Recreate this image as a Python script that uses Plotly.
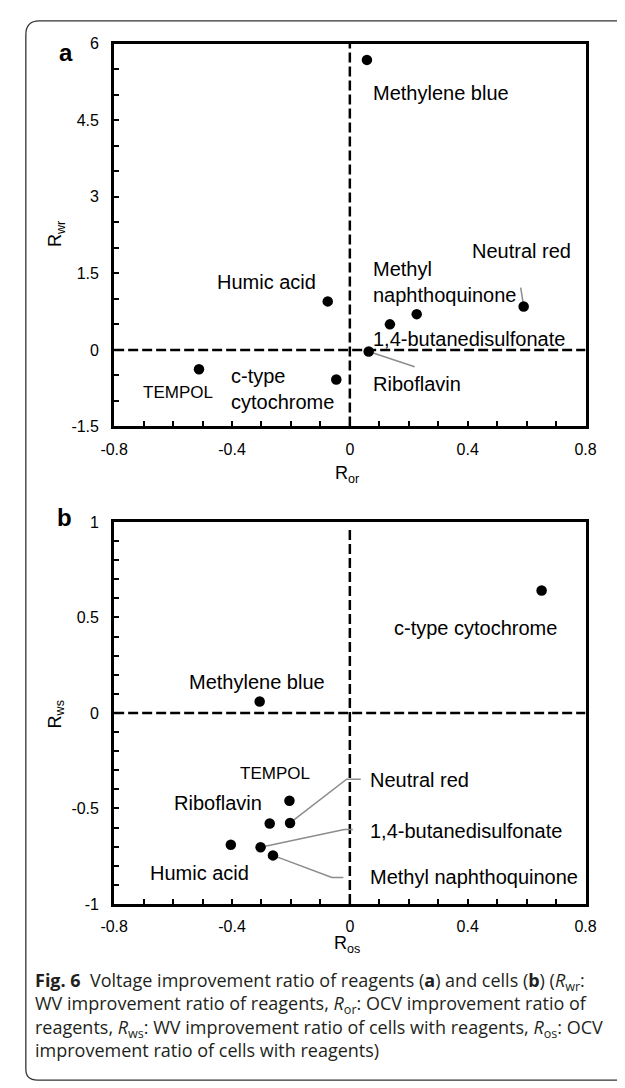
import plotly.graph_objects as go

# ---------------- data ----------------
# Panel a : reagents
names_a = ["Methylene blue", "Humic acid", "Methyl naphthoquinone", "1,4-butanedisulfonate",
           "Neutral red", "Riboflavin", "TEMPOL", "c-type cytochrome"]
r_or = [0.058, -0.075, 0.227, 0.136, 0.59, 0.064, -0.512, -0.046]
r_wr = [5.68, 0.95, 0.70, 0.50, 0.85, -0.03, -0.38, -0.58]

# Panel b : cells with reagents
names_b = ["c-type cytochrome", "Methylene blue", "TEMPOL", "Neutral red", "Riboflavin",
           "Humic acid", "1,4-butanedisulfonate", "Methyl naphthoquinone"]
r_os = [0.651, -0.306, -0.205, -0.203, -0.272, -0.404, -0.303, -0.261]
r_ws = [0.641, 0.060, -0.46, -0.576, -0.579, -0.69, -0.703, -0.746]

x_tickvals = [-0.8, -0.4, 0, 0.4, 0.8]
x_ticktext = ["-0.8", "-0.4", "0", "0.4", "0.8"]
ya_tickvals = [-1.5, 0, 1.5, 3, 4.5, 6]
ya_ticktext = ["-1.5", "0", "1.5", "3", "4.5", "6"]
yb_tickvals = [-1, -0.5, 0, 0.5, 1]
yb_ticktext = ["-1", "-0.5", "0", "0.5", "1"]

caption_lines = [
    "<b>Fig. 6</b>\u00a0\u00a0Voltage improvement ratio of reagents (<b>a</b>) and cells (<b>b</b>) (<i>R</i><sub>wr</sub>:",
    "WV improvement ratio of reagents, <i>R</i><sub>or</sub>: OCV improvement ratio of",
    "reagents, <i>R</i><sub>ws</sub>: WV improvement ratio of cells with reagents, <i>R</i><sub>os</sub>: OCV",
    "improvement ratio of cells with reagents)",
]

# ---------------- layout helpers ----------------
W, H = 625, 1088
OX, OY = 8, 8          # default page margin of the html body


def px(x):
    return (x - OX) / W


def py(y):
    return 1 - (y - OY) / H


FONT = "Liberation Sans, Arial, sans-serif"
LBL = 20

fig = go.Figure()
fig.add_trace(go.Scatter(x=r_or, y=r_wr, mode="markers", text=names_a,
                         marker=dict(color="black", size=10.5), xaxis="x", yaxis="y",
                         showlegend=False, hoverinfo="text"))
fig.add_trace(go.Scatter(x=r_os, y=r_ws, mode="markers", text=names_b,
                         marker=dict(color="black", size=10.5), xaxis="x2", yaxis="y2",
                         showlegend=False, hoverinfo="text"))


def xax(anchor):
    return dict(range=[-0.8, 0.8], domain=[px(104), px(595)], anchor=anchor,
                tickmode="array", tickvals=x_tickvals, ticktext=x_ticktext,
                ticks="inside", ticklen=5, tickwidth=1.5, tickcolor="black",
                minor=dict(dtick=0.1, tick0=0, ticks="inside", ticklen=5, tickwidth=1.5, tickcolor="black"),
                showline=True, linewidth=3, linecolor="black", mirror=True,
                showgrid=False, zeroline=False, ticklabelstandoff=6,
                tickfont=dict(family=FONT, size=16, color="black"), fixedrange=True)


def yax(anchor, rng, dom, tv, tt, mdt):
    return dict(range=rng, domain=dom, anchor=anchor,
                tickmode="array", tickvals=tv, ticktext=tt,
                ticks="inside", ticklen=5, tickwidth=1.5, tickcolor="black",
                minor=dict(dtick=mdt, tick0=0, ticks="inside", ticklen=5, tickwidth=1.5, tickcolor="black"),
                showline=True, linewidth=3, linecolor="black", mirror=True,
                showgrid=False, zeroline=False, ticklabelstandoff=9,
                tickfont=dict(family=FONT, size=16, color="black"), fixedrange=True)


shapes = []
# rounded frame (left/top/bottom visible, right runs off-page)
r = 14
frame = (f"M {px(650)} {py(13)} L {px(12 + r)} {py(13)} "
         f"Q {px(12)} {py(13)} {px(12)} {py(13 + r)} "
         f"L {px(12)} {py(1078)} Q {px(12)} {py(1089)} {px(24)} {py(1089)} L {px(650)} {py(1089)}")
shapes.append(dict(type="path", path=frame, xref="paper", yref="paper",
                   line=dict(color="#333333", width=1.3)))

# dashed zero lines
dash = dict(color="black", width=2.5, dash="10px,4px")
shapes += [
    dict(type="line", xref="x", yref="y", x0=0, x1=0, y0=-1.5, y1=6, line=dash, layer="below"),
    dict(type="line", xref="x", yref="y", x0=-0.8, x1=0.8, y0=0, y1=0, line=dash, layer="below"),
    dict(type="line", xref="x2", yref="y2", x0=0, x1=0, y0=-1, y1=0.97, line=dash, layer="below"),
    dict(type="line", xref="x2", yref="y2", x0=-0.8, x1=0.8, y0=0, y1=0, line=dash, layer="below"),
]

# leader lines
lead = dict(color="#8c8c8c", width=1.5)
ia = {n: i for i, n in enumerate(names_a)}
ib = {n: i for i, n in enumerate(names_b)}
i = ia["Neutral red"]
shapes.append(dict(type="line", xref="x", yref="y", x0=0.580, y0=1.22, x1=r_or[i], y1=r_wr[i], line=lead, layer="below"))
i = ia["Riboflavin"]
shapes.append(dict(type="line", xref="x", yref="y", x0=r_or[i], y0=r_wr[i], x1=0.22, y1=-0.33, line=lead, layer="below"))


def elbow(i, xe, ye, xend):
    return dict(type="path", xref="x2", yref="y2",
                path=f"M {r_os[i]} {r_ws[i]} L {xe} {ye} L {xend} {ye}", line=lead, layer="below")


shapes.append(elbow(ib["Neutral red"], -0.011, -0.347, 0.037))
shapes.append(elbow(ib["1,4-butanedisulfonate"], -0.019, -0.61, 0.010))
shapes.append(elbow(ib["Methyl naphthoquinone"], -0.061, -0.862, -0.022))

ann = []


def lab(text, x, y, xr, yr, size=LBL):
    a = dict(text=text, x=x, y=y, xref=xr, yref=yr, xanchor="left", yanchor="middle",
             showarrow=False, font=dict(family=FONT, size=size, color="black"))
    if "<br>" in text:
        a["align"] = "left"
    ann.append(a)


labels_a = [
    ("Methylene blue", 0.071, 5.04, LBL),
    ("Neutral red", 0.408, 1.93, LBL),
    ("Humic acid", -0.457, 1.33, LBL),
    ("Methyl<br>naphthoquinone", 0.073, 1.33, LBL),
    ("1,4-butanedisulfonate", 0.071, 0.216, LBL),
    ("Riboflavin", 0.073, -0.665, LBL),
    ("TEMPOL", -0.710, -0.825, 17),
    ("c-type<br>cytochrome", -0.411, -0.76, LBL),
]
for t, x, y, s in labels_a:
    lab(t, x, y, "x", "y", s)

labels_b = [
    ("c-type cytochrome", 0.144, 0.447, LBL),
    ("Methylene blue", -0.552, 0.16, LBL),
    ("TEMPOL", -0.378, -0.316, 17),
    ("Neutral red", 0.062, -0.35, LBL),
    ("Riboflavin", -0.604, -0.473, LBL),
    ("1,4-butanedisulfonate", 0.062, -0.619, LBL),
    ("Humic acid", -0.684, -0.837, LBL),
    ("Methyl naphthoquinone", 0.062, -0.859, LBL),
]
for t, x, y, s in labels_b:
    lab(t, x, y, "x2", "y2", s)


def ptext(text, x, y, size, angle=0, xanchor="center", family=FONT):
    ann.append(dict(text=text, x=px(x), y=py(y), xref="paper", yref="paper",
                    xanchor=xanchor, yanchor="middle", showarrow=False, textangle=angle,
                    font=dict(family=family, size=size, color="black")))


# panel letters
ptext("<b>a</b>", 54, 45, 24)
ptext("<b>b</b>", 52, 517, 24)
# axis titles
ptext("R<sub>wr</sub>", 44, 230, 18, angle=-90)
ptext("R<sub>or</sub>", 347, 474, 18)
ptext("R<sub>ws</sub>", 44, 718, 18, angle=-90)
ptext("R<sub>os</sub>", 347, 951, 18)

# caption (one block, 4 lines)
ann.append(dict(text="<br>".join(caption_lines), x=px(19), y=py(1023), xref="paper", yref="paper",
                xanchor="left", yanchor="middle", showarrow=False, align="left",
                font=dict(family="Open Sans, Noto Sans, sans-serif", size=18, color="#231f20")))

fig.update_layout(
    width=W, height=H, margin=dict(l=0, r=0, t=0, b=0),
    paper_bgcolor="white", plot_bgcolor="white",
    xaxis=xax("y"),
    yaxis=yax("x", [-1.5, 6], [py(425), py(36)], ya_tickvals, ya_ticktext, 0.5),
    xaxis2=xax("y2"),
    yaxis2=yax("x2", [-1, 1], [py(910), py(522)], yb_tickvals, yb_ticktext, 0.1),
    shapes=shapes, annotations=ann, showlegend=False,
)

fig.write_html("out.html")
